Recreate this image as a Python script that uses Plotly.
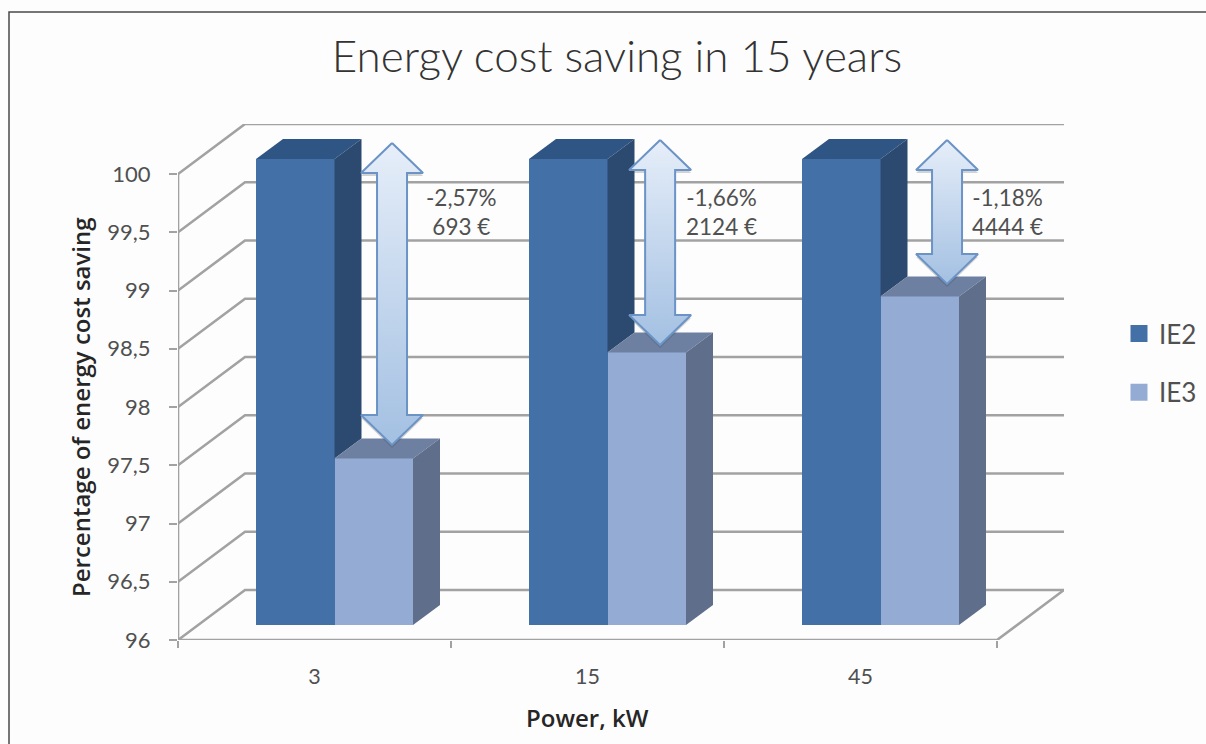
import plotly.graph_objects as go

# ---- data
categories = ["3", "15", "45"]
ie2_values = [100, 100, 100]
ie3_values = [97.43, 98.34, 98.82]
y_ticks = [96, 96.5, 97, 97.5, 98, 98.5, 99, 99.5, 100]
y_tick_labels = ["96", "96,5", "97", "97,5", "98", "98,5", "99", "99,5", "100"]
saving_labels = ["-2,57%<br>693 €", "-1,66%<br>2124 €", "-1,18%<br>4444 €"]
label_x = [0.54, 1.49, 2.54]
label_y = [99.675, 99.675, 99.675]
arrow_x = [0.284, 1.266, 2.317]
arrow_top = [100.266, 100.292, 100.292]
arrow_tip = [97.674, 98.532, 99.056]

# ---- pseudo-3D projection, in axis units
W, H = 1206, 744
L, R, T, B = 178, 142, 124, 104
UNITX = 273.0                # pixels per category
UNITY = 116.5                # pixels per percentage point
WALL_DX, WALL_DY = 67 / UNITX, 50 / UNITY
FRONT_DX, FRONT_DY = 20 / UNITX, 15 / UNITY
DEPTH_DX, DEPTH_DY = 27 / UNITX, 20 / UNITY
BAR_W = 78.5 / UNITX
X0, X1 = -0.5, 2.5
Y0 = 96

GRID = "#a2a2a2"
IE2_FRONT, IE2_TOP, IE2_SIDE = "#4470a8", "#2f5585", "#2c4a70"
IE3_FRONT, IE3_TOP, IE3_SIDE = "#94acd4", "#6e80a1", "#5f6e8b"
TEXT = "#505050"
DARK = "#262626"
FONT = "Lato"


def paper_x(px):
    return (px - L) / (W - L - R)


def paper_y(py):
    return 1 - (py - T) / (H - T - B)


fig = go.Figure()


def poly(xs, ys, color):
    fig.add_trace(go.Scatter(x=xs + xs[:1], y=ys + ys[:1], mode="lines", fill="toself",
                             fillcolor=color, line=dict(width=0), hoverinfo="skip",
                             showlegend=False))


# front faces
ie2_x = [i + FRONT_DX - BAR_W / 2 for i in range(len(categories))]
ie3_x = [i + FRONT_DX + BAR_W / 2 for i in range(len(categories))]
fig.add_trace(go.Bar(x=ie2_x, y=[v - Y0 for v in ie2_values], base=Y0 + FRONT_DY, width=BAR_W,
                     marker=dict(color=IE2_FRONT, line=dict(width=0)), showlegend=False, name="IE2"))
fig.add_trace(go.Bar(x=ie3_x, y=[v - Y0 for v in ie3_values], base=Y0 + FRONT_DY, width=BAR_W,
                     marker=dict(color=IE3_FRONT, line=dict(width=0)), showlegend=False, name="IE3"))

# legend entries
for name, col in (("IE2", IE2_FRONT), ("IE3", IE3_FRONT)):
    fig.add_trace(go.Bar(x=[None], y=[None], name=name, legendgroup=name,
                         marker=dict(color=col, line=dict(color=col, width=5))))

# top and side faces
for i, (a, b) in enumerate(zip(ie2_values, ie3_values)):
    xa0, xa1 = ie2_x[i] - BAR_W / 2, ie2_x[i] + BAR_W / 2
    xb1 = ie3_x[i] + BAR_W / 2
    ya = a + FRONT_DY
    yb = b + FRONT_DY
    # IE2 top, visible part of IE2 side
    poly([xa0, xa1, xa1 + DEPTH_DX, xa0 + DEPTH_DX], [ya, ya, ya + DEPTH_DY, ya + DEPTH_DY], IE2_TOP)
    poly([xa1, xa1 + DEPTH_DX, xa1 + DEPTH_DX, xa1], [ya, ya + DEPTH_DY, yb + DEPTH_DY, yb], IE2_SIDE)
    # IE3 top and side
    poly([xa1, xb1, xb1 + DEPTH_DX, xa1 + DEPTH_DX], [yb, yb, yb + DEPTH_DY, yb + DEPTH_DY], IE3_TOP)
    poly([xb1, xb1 + DEPTH_DX, xb1 + DEPTH_DX, xb1],
         [Y0 + FRONT_DY, Y0 + FRONT_DY + DEPTH_DY, yb + DEPTH_DY, yb], IE3_SIDE)

# double arrows with a soft shadow
HEAD_W, SHAFT_W, HEAD_H = 31 / UNITX, 15 / UNITX, 30 / UNITY
SHADOW_DY = 3 / UNITY
for cx, top, tip in zip(arrow_x, arrow_top, arrow_tip):
    xs = [cx, cx + HEAD_W, cx + SHAFT_W, cx + SHAFT_W, cx + HEAD_W, cx,
          cx - HEAD_W, cx - SHAFT_W, cx - SHAFT_W, cx - HEAD_W, cx]
    ys = [top, top - HEAD_H, top - HEAD_H, tip + HEAD_H, tip + HEAD_H, tip,
          tip + HEAD_H, tip + HEAD_H, top - HEAD_H, top - HEAD_H, top]
    fig.add_trace(go.Scatter(x=xs, y=[v - SHADOW_DY for v in ys], mode="lines", fill="toself",
                             fillcolor="rgba(60,60,60,0.22)", line=dict(width=0),
                             hoverinfo="skip", showlegend=False))
    fig.add_trace(go.Scatter(x=xs, y=ys, mode="lines", fill="toself",
                             fillgradient=dict(type="vertical",
                                               colorscale=[[0, "#a3c0e2"], [1, "#e6eef9"]]),
                             line=dict(color="#6b93c6", width=2), hoverinfo="skip", showlegend=False))

# walls, floor and axis lines go behind the bars
shapes = []
for v in y_ticks:
    shapes.append(dict(type="path", layer="below", xref="x", yref="y",
                       path=f"M {X0},{v} L {X0 + WALL_DX},{v + WALL_DY} L {X1 + WALL_DX},{v + WALL_DY}",
                       line=dict(color=GRID, width=2.6)))
shapes.append(dict(type="path", layer="below", xref="x", yref="y",
                   path=f"M {X0},{y_ticks[-1]} L {X0},{Y0} L {X1},{Y0} L {X1 + WALL_DX},{Y0 + WALL_DY}",
                   line=dict(color=GRID, width=2.6)))
# outer frame of the picture
shapes.append(dict(type="path", layer="below", xref="paper", yref="paper",
                   path=f"M {paper_x(9)},{paper_y(760)} L {paper_x(9)},{paper_y(12)} L {paper_x(1230)},{paper_y(12)}",
                   line=dict(color="#4a4a4a", width=1.5)))

annotations = [
    dict(x=x, y=y, xref="x", yref="y", text=t, showarrow=False, align="center",
         font=dict(family=FONT, size=22.5, color=TEXT))
    for t, x, y in zip(saving_labels, label_x, label_y)
]
annotations.append(dict(x=paper_x(80), y=paper_y(407), xref="paper", yref="paper",
                        text="Percentage of energy cost saving",
                        textangle=-90, showarrow=False, xanchor="center", yanchor="middle",
                        font=dict(family="Open Sans", size=24, color=DARK, weight=600)))
annotations.append(dict(x=paper_x(587), y=paper_y(717), xref="paper", yref="paper", text="Power, kW",
                        showarrow=False, xanchor="center", yanchor="middle",
                        font=dict(family="Open Sans", size=24, color=DARK, weight=600)))

fig.update_layout(
    width=W, height=H, autosize=False,
    margin=dict(l=L, r=R, t=T, b=B),
    paper_bgcolor="#fdfdfd", plot_bgcolor="rgba(0,0,0,0)",
    barmode="overlay", bargap=0,
    title=dict(text="Energy cost saving in 15 years", x=617 / W, y=1 - 57 / H,
               xref="container", yref="container", xanchor="center", yanchor="middle",
               font=dict(family=FONT, size=44, color="#333333", weight=300)),
    xaxis=dict(range=[X0, X1 + WALL_DX], showgrid=False, zeroline=False, showline=False,
               tickmode="array", tickvals=list(range(len(categories))), ticktext=categories,
               ticks="", ticklabelstandoff=21, tickfont=dict(family=FONT, size=21.5, color=TEXT),
               minor=dict(tickmode="array", tickvals=[X0, 0.5, 1.5, X1], ticks="outside",
                          ticklen=7, tickwidth=2, tickcolor=GRID)),
    yaxis=dict(range=[Y0, Y0 + (H - T - B) / UNITY], showgrid=False, zeroline=False, showline=False,
               tickmode="array", tickvals=y_ticks, ticktext=y_tick_labels, ticks="outside",
               ticklen=8, tickwidth=2, tickcolor=GRID, ticklabelstandoff=14,
               tickfont=dict(family=FONT, size=22, color=TEXT)),
    legend=dict(x=1119 / W, y=1 - 310 / H, xref="container", yref="container",
                xanchor="left", yanchor="top", bgcolor="rgba(0,0,0,0)",
                tracegroupgap=22, font=dict(family=FONT, size=26, color=TEXT)),
    shapes=shapes, annotations=annotations,
)

fig.write_html("out.html", config={"displayModeBar": False},
               post_script="document.body.style.margin='0';")
